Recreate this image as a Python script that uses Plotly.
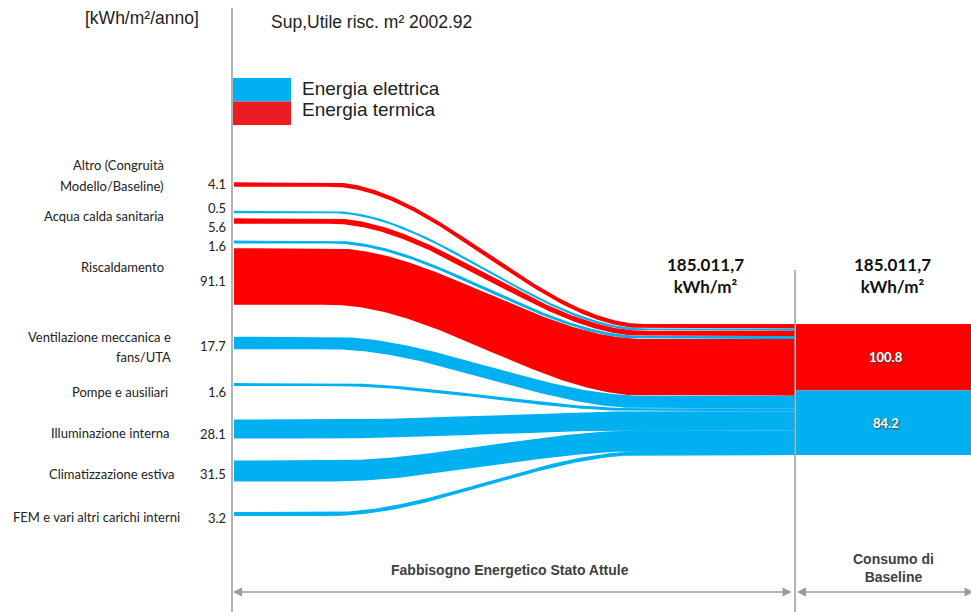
import numpy as np
import plotly.graph_objects as go

# ---------------- data ----------------
band_values = [4.1, 0.5, 5.6, 1.6, 91.1, 17.7, 1.6, 28.1, 31.5, 3.2]
band_types = ["T", "E", "T", "E", "T", "E", "E", "E", "E", "E"]  # T = termica, E = elettrica
category_lines = ["Altro (Congruità", "Modello/Baseline)", "Acqua calda sanitaria",
                  "Riscaldamento", "Ventilazione meccanica e", "fans/UTA",
                  "Pompe e ausiliari", "Illuminazione interna",
                  "Climatizzazione estiva", "FEM e vari altri carichi interni"]
type_names = {"E": "Energia elettrica", "T": "Energia termica"}
total_text = "185.011,7<br>kWh/m²"
unit_text = "[kWh/m²/anno]"
area_text = "Sup,Utile risc. m² 2002.92"
section_left = "Fabbisogno Energetico Stato Attule"
section_right = "Consumo di<br>Baseline"

# ---------------- layout constants (pixels) ----------------
W, H = 971, 612
band_centers = [184.5, 212, 221, 242, 276.5, 343, 384.5, 429, 471, 514]
value_label_y = [184, 208, 227, 246, 281, 346, 392, 434, 474, 518]
category_y = [165, 186, 216, 267, 337, 357, 392, 433, 474, 517]
category_right = [166, 166, 166, 166, 173, 173, 170, 172, 177, 182]
SCALE, MIN_T = 0.6, 2.0          # px per kWh/m² and minimum thickness
X_START, X_C0, X_C1, X_DIV = 234, 330, 645, 795
STACK_TOP = 324
COLORS = {"E": "#00B0F0", "T": "#FF0000"}
LEG_COLORS = {"E": "#00B0F0", "T": "#ED1C24"}
AXIS_GRAY = "#9a9a9a"
LABEL_FONT = "Lato"

fig = go.Figure()

thick = [SCALE * v + MIN_T for v in band_values]
ends_top = STACK_TOP + np.concatenate([[0], np.cumsum(thick)[:-1]])

xs = np.linspace(X_START, X_DIV, 400)
t = np.clip((xs - X_C0) / (X_C1 - X_C0), 0, 1)
s = t * t * (3 - 2 * t)

for v, ty, c, th, et in zip(band_values, band_types, band_centers, thick, ends_top):
    top0 = c - th / 2
    top = top0 + (et - top0) * s
    bot = top + th
    fig.add_trace(go.Scatter(
        x=np.concatenate([xs, xs[::-1]]), y=np.concatenate([top, bot[::-1]]),
        fill="toself", fillcolor=COLORS[ty], line=dict(width=0), mode="lines",
        hoverinfo="skip", showlegend=False))

# right column (baseline consumption)
y_cur = STACK_TOP
for ty in ["T", "E"]:
    tot = sum(v for v, tt in zip(band_values, band_types) if tt == ty)
    th = sum(h for h, tt in zip(thick, band_types) if tt == ty)
    fig.add_trace(go.Scatter(
        x=[X_DIV + 1, W, W, X_DIV + 1], y=[y_cur, y_cur, y_cur + th, y_cur + th],
        fill="toself", fillcolor=COLORS[ty], line=dict(width=0), mode="lines",
        hoverinfo="skip", showlegend=False))
    fig.add_annotation(x=886, y=y_cur + th / 2, text=f"<b>{tot:.1f}</b>", showarrow=False,
                       font=dict(family=LABEL_FONT, size=13, color="white",
                                 shadow="1px 1px 2px #444"),
                       xanchor="center", yanchor="middle")
    y_cur += th

# value labels
for v, y in zip(band_values, value_label_y):
    fig.add_annotation(x=228, y=y, text=f"{v}", showarrow=False, xanchor="right",
                       yanchor="middle", font=dict(family=LABEL_FONT, size=13, color="#222"))
# category labels
for txt, y, xr in zip(category_lines, category_y, category_right):
    fig.add_annotation(x=xr, y=y, text=txt, showarrow=False, xanchor="right",
                       yanchor="middle", font=dict(family=LABEL_FONT, size=13, color="#222"))

# header texts
fig.add_annotation(x=142, y=18, text=unit_text, showarrow=False, xanchor="center",
                   yanchor="middle", font=dict(family="Liberation Sans", size=17.5, color="#222"))
fig.add_annotation(x=269, y=22, text=area_text, showarrow=False, xanchor="left",
                   yanchor="middle", font=dict(family="Liberation Sans", size=17.5, color="#222"))

# legend
for i, ty in enumerate(["E", "T"]):
    y0 = 78 + i * 23.5
    fig.add_shape(type="rect", x0=233, x1=291, y0=y0, y1=y0 + 23.5,
                  fillcolor=LEG_COLORS[ty], line=dict(width=0), layer="above")
    fig.add_annotation(x=300, y=88 + i * 21, text=type_names[ty], showarrow=False,
                       xanchor="left", yanchor="middle",
                       font=dict(family="Liberation Sans", size=19, color="#222"))

# totals
for xc in [705, 892]:
    fig.add_annotation(x=xc, y=275, text=f"<b>{total_text}</b>", showarrow=False,
                       xanchor="center", yanchor="middle",
                       font=dict(family=LABEL_FONT, size=17, color="#111"))

# axis / divider lines
fig.add_shape(type="line", x0=232, x1=232, y0=8, y1=H, line=dict(color=AXIS_GRAY, width=1.5))
fig.add_shape(type="line", x0=X_DIV, x1=X_DIV, y0=270, y1=H, line=dict(color=AXIS_GRAY, width=1.5),
              layer="above")

# bottom arrows
for xa, xb in [(233, 793), (797, 975)]:
    fig.add_annotation(x=xa, y=592, ax=xb, ay=592, xref="x", yref="y", axref="x", ayref="y",
                       text="", showarrow=True, arrowhead=2, arrowside="end+start",
                       arrowsize=1.2, arrowwidth=1.5, arrowcolor=AXIS_GRAY)
fig.add_annotation(x=510, y=570, text=f"<b>{section_left}</b>", showarrow=False,
                   xanchor="center", yanchor="middle",
                   font=dict(family="Liberation Sans", size=14, color="#404040"))
fig.add_annotation(x=893, y=568, text=f"<b>{section_right}</b>", showarrow=False,
                   xanchor="center", yanchor="middle",
                   font=dict(family="Liberation Sans", size=14, color="#404040"))

fig.update_layout(
    width=W, height=H, margin=dict(l=0, r=0, t=0, b=0),
    paper_bgcolor="white", plot_bgcolor="white", showlegend=False,
    xaxis=dict(range=[0, W], visible=False, fixedrange=True),
    yaxis=dict(range=[H, 0], visible=False, fixedrange=True),
)
fig.write_html("out.html")
